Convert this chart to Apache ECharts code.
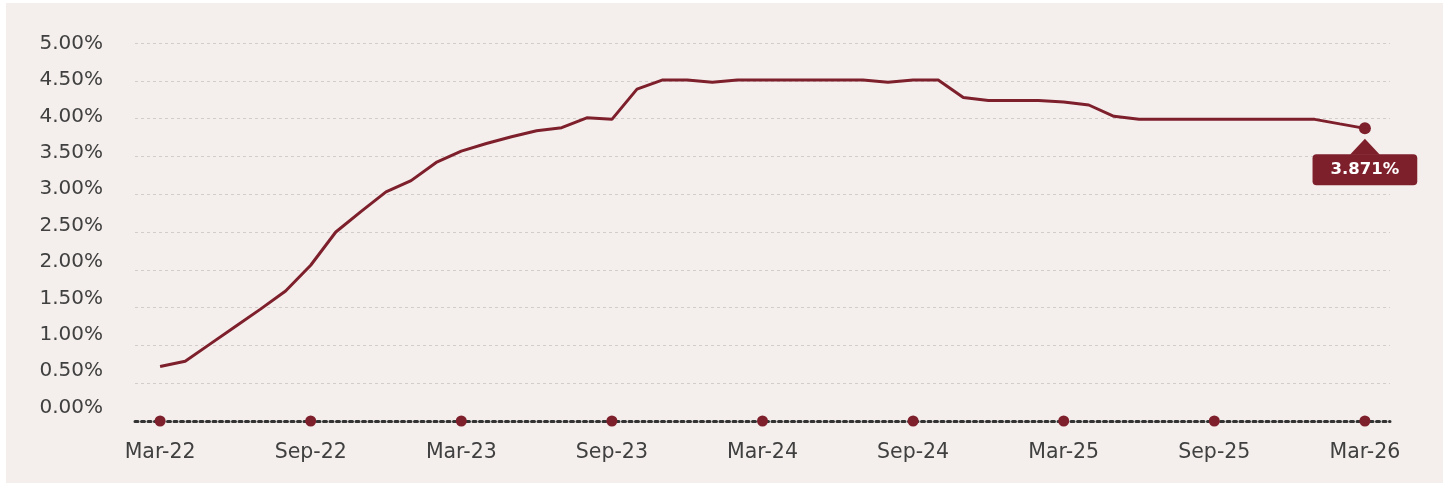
<!DOCTYPE html>
<html>
<head>
<meta charset="utf-8">
<script src="https://cdn.jsdelivr.net/npm/echarts@6/dist/echarts.min.js"></script>
<style>
    html, body { margin: 0; padding: 0; background: #ffffff; }
    .panel { position: absolute; left: 6px; top: 3px; width: 1437px; height: 480px; background: #f4efec; }
    #chart { position: absolute; left: 0; top: 0; width: 1449px; height: 490px; }
</style>
</head>
<body>
<div class="panel"></div>
<div id="chart"></div>
<script>
    // month axis, padded by one month either side
    const months = [
        'Feb-22', 'Mar-22', 'Apr-22', 'May-22', 'Jun-22', 'Jul-22', 'Aug-22', 'Sep-22', 'Oct-22', 'Nov-22', 'Dec-22',
        'Jan-23', 'Feb-23', 'Mar-23', 'Apr-23', 'May-23', 'Jun-23', 'Jul-23', 'Aug-23', 'Sep-23', 'Oct-23', 'Nov-23', 'Dec-23',
        'Jan-24', 'Feb-24', 'Mar-24', 'Apr-24', 'May-24', 'Jun-24', 'Jul-24', 'Aug-24', 'Sep-24', 'Oct-24', 'Nov-24', 'Dec-24',
        'Jan-25', 'Feb-25', 'Mar-25', 'Apr-25', 'May-25', 'Jun-25', 'Jul-25', 'Aug-25', 'Sep-25', 'Oct-25', 'Nov-25', 'Dec-25',
        'Jan-26', 'Feb-26', 'Mar-26', 'Apr-26'
    ];

    // Mar-22 .. Mar-26
    const rates = [
        0.72, 0.79, 1.02, 1.25, 1.48, 1.72, 2.06, 2.50, 2.77, 3.03,
        3.18, 3.42, 3.57, 3.67, 3.76, 3.84, 3.88, 4.01, 3.99, 4.39, 4.51, 4.51,
        4.48, 4.51, 4.51, 4.51, 4.51, 4.51, 4.51, 4.48, 4.51, 4.51, 4.28, 4.24,
        4.24, 4.24, 4.22, 4.18, 4.03, 3.99, 3.99, 3.99, 3.99, 3.99, 3.99, 3.99,
        3.99, 3.93, 3.871
    ];

    const tickMonths = ['Mar-22', 'Sep-22', 'Mar-23', 'Sep-23', 'Mar-24', 'Sep-24', 'Mar-25', 'Sep-25', 'Mar-26'];
    const yTicks = [0, 0.5, 1, 1.5, 2, 2.5, 3, 3.5, 4, 4.5, 5];

    const lastMonth = 'Mar-26';
    const lastRate = rates[rates.length - 1];

    const red = '#7e1f2c';
    const textColor = '#404040';
    const font = 'DejaVu Sans';

    const chart = echarts.init(document.getElementById('chart'));

    const option = {
        animation: false,
        backgroundColor: 'transparent',
        textStyle: { fontFamily: font },
        grid: [
            { left: 135, right: 59, top: 43, bottom: 69 },
            // label-only grid, its ticks sit a little tighter than the gridlines
            { left: 135, right: 59, top: 43.5, bottom: 82.5 }
        ],
        xAxis: [
            {
                type: 'category',
                gridIndex: 0,
                data: months,
                boundaryGap: false,
                axisTick: { show: false },
                axisLine: { lineStyle: { color: '#333333', width: 3, type: [3, 3.5] } },
                axisLabel: {
                    interval: (i, v) => tickMonths.indexOf(v) >= 0,
                    color: textColor,
                    fontSize: 20.5,
                    margin: 21
                },
                splitLine: { show: false }
            },
            { type: 'value', gridIndex: 1, show: false }
        ],
        yAxis: [
            {
                type: 'value',
                gridIndex: 0,
                min: yTicks[0],
                max: yTicks[yTicks.length - 1],
                interval: 0.5,
                axisLine: { show: false },
                axisTick: { show: false },
                axisLabel: { show: false },
                splitLine: {
                    showMinLine: false,
                    lineStyle: { color: '#d2cdca', width: 1, type: [3, 3] }
                }
            },
            {
                type: 'value',
                gridIndex: 1,
                min: yTicks[0],
                max: yTicks[yTicks.length - 1],
                interval: 0.5,
                axisLine: { show: false },
                axisTick: { show: false },
                splitLine: { show: false },
                axisLabel: {
                    color: textColor,
                    fontSize: 20,
                    margin: 32,
                    formatter: v => v.toFixed(2) + '%'
                }
            }
        ],
        series: [
            {
                name: 'Rate',
                type: 'line',
                xAxisIndex: 0,
                yAxisIndex: 0,
                data: [null].concat(rates, [null]),
                showSymbol: false,
                lineStyle: { color: red, width: 3 },
                z: 3
            },
            {
                name: 'ticks',
                type: 'scatter',
                xAxisIndex: 0,
                yAxisIndex: 0,
                data: tickMonths.map(m => [m, 0]),
                symbol: 'circle',
                symbolSize: 11,
                itemStyle: { color: red, opacity: 1 },
                z: 5
            },
            {
                name: 'last',
                type: 'scatter',
                xAxisIndex: 0,
                yAxisIndex: 0,
                data: [[lastMonth, lastRate]],
                symbol: 'circle',
                symbolSize: 12,
                itemStyle: { color: red, opacity: 1 },
                label: {
                    show: true,
                    position: 'bottom',
                    distance: 20,
                    formatter: lastRate.toFixed(3) + '%',
                    color: '#ffffff',
                    fontSize: 16.5,
                    fontWeight: 'bold',
                    lineHeight: 19,
                    backgroundColor: red,
                    borderRadius: 4,
                    padding: [6, 18, 6, 18]
                },
                markPoint: {
                    symbol: 'triangle',
                    symbolSize: [30, 16],
                    symbolOffset: [0, 18.5],
                    itemStyle: { color: red, opacity: 1 },
                    label: { show: false },
                    data: [{ coord: [lastMonth, lastRate] }]
                },
                z: 6
            }
        ]
    };

    chart.setOption(option);
</script>
</body>
</html>
